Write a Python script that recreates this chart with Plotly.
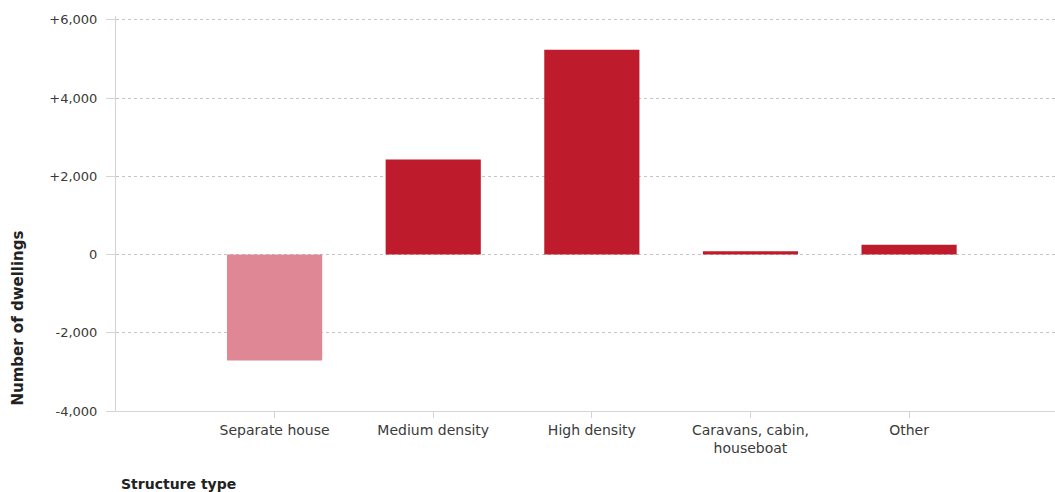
import plotly.graph_objects as go

# Change in dwellings by structure type
categories = ["Separate house", "Medium density", "High density",
              "Caravans, cabin,<br>houseboat", "Other"]
change = [-2710, 2430, 5240, 85, 250]

tick_values = [6000, 4000, 2000, 0, -2000, -4000]
tick_labels = ["+6,000", "+4,000", "+2,000", "0", "-2,000", "-4,000"]

POS_COLOR = "#BE1C2D"
NEG_COLOR = "#E08795"
bar_colors = [NEG_COLOR if v < 0 else POS_COLOR for v in change]

FONT = "DejaVu Sans, Arial, sans-serif"
TICK_COLOR = "#3a3a3a"

fig = go.Figure(
    go.Bar(
        x=categories,
        y=change,
        marker=dict(color=bar_colors, line=dict(width=0)),
        width=0.6,
        hoverinfo="x+y",
    )
)

fig.update_layout(
    width=1055,
    height=492,
    margin=dict(l=116, r=0, t=16, b=81),
    paper_bgcolor="white",
    plot_bgcolor="white",
    showlegend=False,
    font=dict(family=FONT, size=13, color=TICK_COLOR),
    xaxis=dict(
        type="category",
        range=[-1.0, 4.92],
        showgrid=False,
        showline=True,
        linecolor="#d4d4d4",
        linewidth=1,
        ticks="outside",
        ticklen=6,
        tickcolor="#d4d4d4",
        tickfont=dict(family=FONT, size=14, color=TICK_COLOR),
    ),
    yaxis=dict(
        # headroom so the +6,000 gridline is drawn inside the plot
        range=[-4000, 6100],
        tickvals=tick_values,
        ticktext=tick_labels,
        showgrid=True,
        gridcolor="#c4c4c4",
        griddash="dot",
        gridwidth=1,
        zeroline=False,
        showline=True,
        linecolor="#d4d4d4",
        linewidth=1,
        ticks="outside",
        ticklen=9,
        tickcolor="#d4d4d4",
        ticklabelstandoff=6,
        tickfont=dict(family=FONT, size=13, color=TICK_COLOR),
    ),
    annotations=[
        dict(
            text="<b>Number of dwellings</b>",
            xref="paper", yref="paper",
            x=-0.104, y=0.235,
            xanchor="center", yanchor="middle",
            textangle=-90,
            showarrow=False,
            font=dict(family=FONT, size=15, color="#222222"),
        ),
        dict(
            text="<b>Structure type</b>",
            xref="paper", yref="paper",
            x=0.003, y=-0.185,
            xanchor="left", yanchor="middle",
            showarrow=False,
            font=dict(family=FONT, size=14, color="#222222"),
        ),
    ],
)

fig.write_html("out.html")
